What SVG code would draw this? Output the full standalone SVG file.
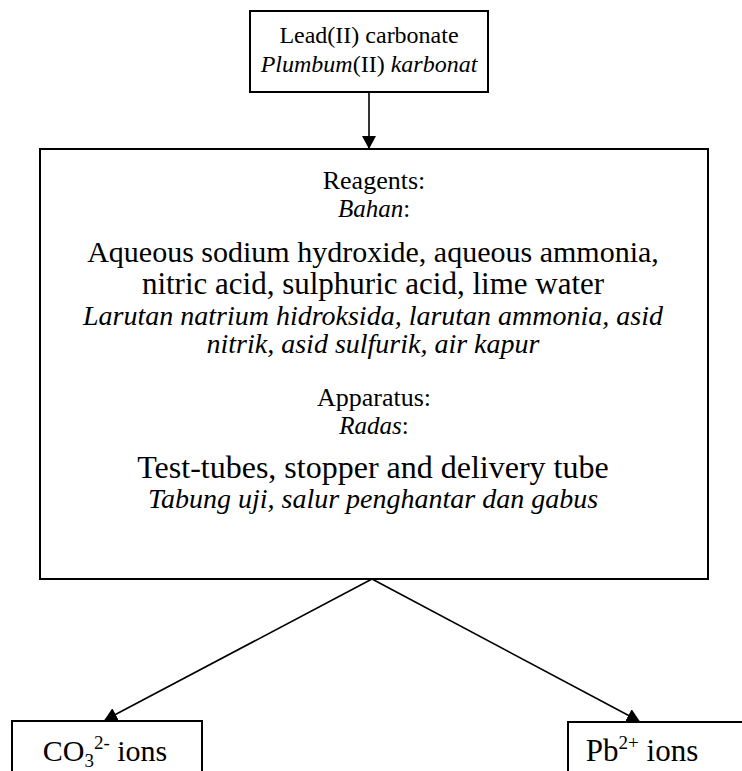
<svg xmlns="http://www.w3.org/2000/svg" width="742" height="771" viewBox="0 0 742 771">
<style>
.box{fill:#fff;stroke:#000;stroke-width:2}
.t{font-family:"Liberation Serif","Times New Roman",serif;fill:#000;text-anchor:middle}
.h{font-size:26px}
.hi{font-size:25px;font-style:italic}
.b{font-size:31px}
.i{font-style:italic;font-size:28px}
.c{stroke:#000;stroke-width:1.6;fill:none}
</style>
<defs>
<marker id="ah" markerWidth="13" markerHeight="14" refX="12" refY="7" orient="auto" markerUnits="userSpaceOnUse" viewBox="0 0 13 14">
<path d="M0,0 L13,7 L0,14 z" fill="#000"/>
</marker>
</defs>
<rect width="742" height="771" fill="#fff"/>
<g id="connectors">
<line class="c" x1="369" y1="92" x2="369" y2="148" marker-end="url(#ah)"/>
<line class="c" x1="372" y1="579" x2="105" y2="720" marker-end="url(#ah)"/>
<line class="c" x1="372" y1="579" x2="639" y2="721" marker-end="url(#ah)"/>
</g>
<g id="lead-carbonate">
<rect class="box" x="250" y="11" width="238" height="81"/>
<text class="t" font-size="24" x="369" y="43">Lead(II) carbonate</text>
<text class="t" font-size="24" x="369" y="72"><tspan font-style="italic">Plumbum</tspan>(II) <tspan font-style="italic">karbonat</tspan></text>
</g>
<g id="reagents">
<rect class="box" x="40" y="149" width="668" height="430"/>
<text class="t h" x="374" y="189">Reagents:</text>
<text class="t hi" x="374" y="217">Bahan<tspan font-style="normal">:</tspan></text>
<text class="t" font-size="30" x="373" y="262">Aqueous sodium hydroxide, aqueous ammonia,</text>
<text class="t b" x="373" y="294">nitric acid, sulphuric acid, lime water</text>
<text class="t i" x="373" y="325">Larutan natrium hidroksida, larutan ammonia, asid</text>
<text class="t i" x="373" y="353">nitrik, asid sulfurik, air kapur</text>
<text class="t h" x="374" y="406">Apparatus:</text>
<text class="t hi" x="374" y="434">Radas<tspan font-style="normal">:</tspan></text>
<text class="t" font-size="32" x="373" y="478">Test-tubes, stopper and delivery tube</text>
<text class="t i" x="373" y="508">Tabung uji, salur penghantar dan gabus</text>
</g>
<g id="co3-ions">
<rect class="box" x="12" y="721" width="190" height="60"/>
<text class="t" font-size="30" x="105" y="761">CO<tspan font-size="19" dy="6">3</tspan><tspan font-size="19" dy="-18">2-</tspan><tspan dy="12"> ions</tspan></text>
</g>
<g id="pb-ions">
<rect class="box" x="568" y="722" width="190" height="60"/>
<text class="t" font-size="31" x="642" y="761">Pb<tspan font-size="19" dy="-12">2+</tspan><tspan dy="12"> ions</tspan></text>
</g>
</svg>
